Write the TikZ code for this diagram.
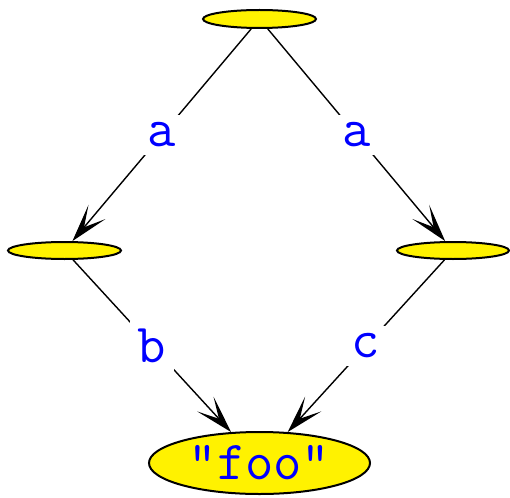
\documentclass[tikz,border=0pt]{standalone}
\usetikzlibrary{shapes.geometric,arrows.meta}
\begin{document}
\begin{tikzpicture}[x=1pt,y=-1pt,
  vtx/.style={ellipse,draw=black,fill=yellow,line width=2pt,inner sep=0pt},
  edg/.style={line width=1.4pt,-{Stealth[length=38pt,width=22pt,inset=20pt]}},
  lbl/.style={fill=white,inner sep=8pt,text=blue,font=\fontsize{55}{64}\selectfont\ttfamily}]
\useasboundingbox (0,0) rectangle (510,497);
\node[vtx,minimum width=113pt,minimum height=18pt] (t) at (259.5,19) {};
\node[vtx,minimum width=113pt,minimum height=17pt] (l) at (64.5,250.5) {};
\node[vtx,minimum width=112pt,minimum height=17pt] (r) at (453,250.5) {};
\node[vtx,minimum width=221pt,minimum height=62pt,text=blue,font=\fontsize{55}{64}\selectfont\ttfamily] (f) at (259.5,463) {"foo"};
\draw[edg] (t) -- node[lbl] (la) {a} (l);
\draw[edg] (t) -- node[lbl] (ra) {a} (r);
\draw[edg] (l) -- node[lbl] (lb) {b} (f);
\draw[edg] (r) -- node[lbl] (lc) {c} (f);
\end{tikzpicture}
\end{document}
